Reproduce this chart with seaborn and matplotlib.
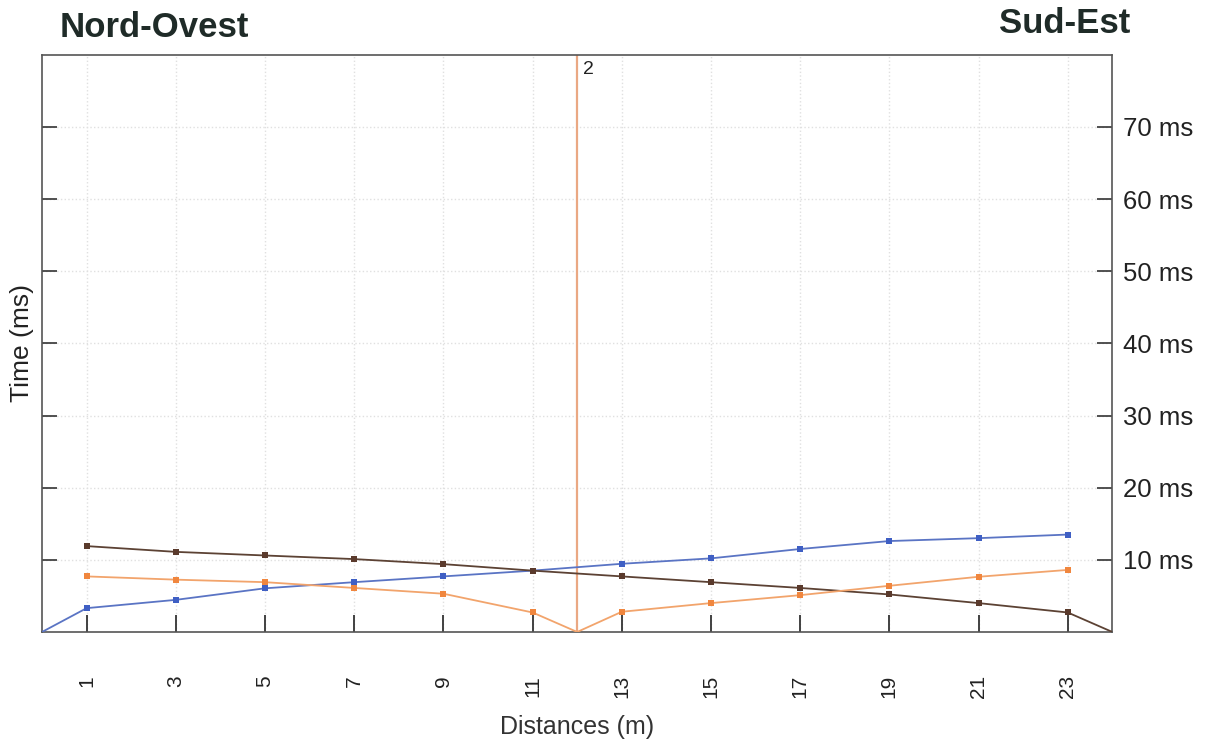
import matplotlib
matplotlib.use("Agg")
import matplotlib.pyplot as plt
import seaborn as sns
import pandas as pd

# ---- data ----
blue_x = [0, 1, 3, 5, 7, 9, 11, 13, 15, 17, 19, 21, 23]
blue_y = [0, 3.3, 4.45, 6.05, 6.9, 7.7, 8.5, 9.45, 10.2, 11.5, 12.6, 13.0, 13.5]

brown_x = [1, 3, 5, 7, 9, 11, 13, 15, 17, 19, 21, 23, 24]
brown_y = [11.9, 11.1, 10.6, 10.1, 9.4, 8.5, 7.7, 6.9, 6.1, 5.2, 4.0, 2.7, 0]

orange_x = [1, 3, 5, 7, 9, 11, 12, 13, 15, 17, 19, 21, 23]
orange_y = [7.7, 7.25, 6.9, 6.1, 5.3, 2.7, 0, 2.8, 4.0, 5.1, 6.4, 7.65, 8.6]

marker_x = [1, 3, 5, 7, 9, 11, 13, 15, 17, 19, 21, 23]
x_ticks = [1, 3, 5, 7, 9, 11, 13, 15, 17, 19, 21, 23]
y_ticks = [10, 20, 30, 40, 50, 60, 70]
y_tick_labels = ["10 ms", "20 ms", "30 ms", "40 ms", "50 ms", "60 ms", "70 ms"]
marker_line_x = 12
marker_line_label = "2"
left_title = "Nord-Ovest"
right_title = "Sud-Est"

sns.set_theme(style="white")
plt.rcParams['font.family'] = ['Liberation Sans', 'DejaVu Sans']

fig = plt.figure(figsize=(12.08, 7.40), dpi=100)
ax = fig.add_axes([0.0348, 0.146, 0.886, 0.78])

series = [
    (blue_x, blue_y, "#5a74c4", "#3f5fc4"),
    (brown_x, brown_y, "#5c4234", "#5a3a2c"),
    (orange_x, orange_y, "#f2a46c", "#f0863e"),
]
for xs, ys, lc, mc in series:
    df = pd.DataFrame({"x": xs, "y": ys})
    sns.lineplot(data=df, x="x", y="y", ax=ax, color=lc, linewidth=1.3,
                 estimator=None, sort=False, zorder=3)
    dm = df[df["x"].isin(marker_x)]
    sns.scatterplot(data=dm, x="x", y="y", ax=ax, color=mc, marker="s",
                    s=22, linewidth=0, zorder=4)

ax.axvline(marker_line_x, color="#eaa883", linewidth=1.6, zorder=2)
ax.text(marker_line_x + 0.12, 79.2, marker_line_label, ha="left", va="top",
        fontsize=14, color="#222222")

ax.set_xlim(0, 24)
ax.set_ylim(0, 80)
ax.set_xticks(x_ticks)
ax.set_xticklabels([str(v) for v in x_ticks], rotation=90, fontsize=15, color="#222222")
ax.set_yticks(y_ticks)
ax.set_yticklabels(y_tick_labels, fontsize=18.5, color="#222222")

ax.tick_params(axis="x", direction="in", length=12, width=1.3, color="#333333",
               pad=31, bottom=True)
ax.tick_params(axis="y", direction="in", length=11, width=1.2, color="#333333",
               left=True, right=True, labelleft=False, labelright=True, pad=8)

ax.grid(True, color="#e0e0e0", linestyle=":", linewidth=1.0, zorder=0)

for s in ax.spines.values():
    s.set_color("#555555")
    s.set_linewidth(1.2)

ax.set_xlabel("Distances (m)", fontsize=18, color="#333333", labelpad=12)
ax.set_ylabel("Time (ms)", fontsize=19, color="#222222", labelpad=6)
ax.yaxis.set_label_position("left")

fig.text(0.049, 0.963, left_title, ha="left", va="center", fontsize=25,
         fontweight="bold", color="#1f2b28")
fig.text(0.936, 0.968, right_title, ha="right", va="center", fontsize=25,
         fontweight="bold", color="#1f2b28")

fig.savefig("out.png", dpi=100)
